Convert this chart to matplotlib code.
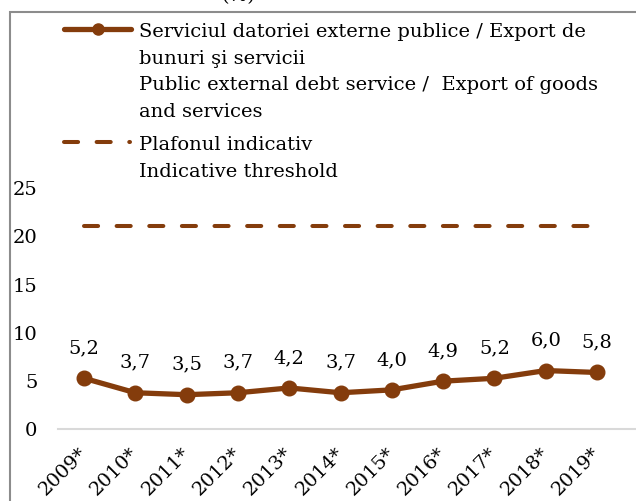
import matplotlib
matplotlib.use("Agg")
import matplotlib.pyplot as plt
from matplotlib.lines import Line2D
from matplotlib.patches import Rectangle

years = ["2009*", "2010*", "2011*", "2012*", "2013*", "2014*", "2015*", "2016*", "2017*", "2018*", "2019*"]
debt_service = [5.2, 3.7, 3.5, 3.7, 4.2, 3.7, 4.0, 4.9, 5.2, 6.0, 5.8]
threshold = [21] * len(years)
yticks = [0, 5, 10, 15, 20, 25]

label1_lines = ["Serviciul datoriei externe publice / Export de", "bunuri şi servicii",
                "Public external debt service /  Export of goods", "and services"]
label2_lines = ["Plafonul indicativ", "Indicative threshold"]

BROWN = "#843C0C"
FONT = "DejaVu Serif"
FS = 14

W, H = 636, 502
fig = plt.figure(figsize=(W / 100, H / 100), dpi=100)

def fx(px):
    return px / W

def fy(py):
    return 1 - py / H

# outer frame
fig.add_artist(Rectangle((fx(9.5), fy(560)), fx(700), 560 / H - 12.5 / H,
                         transform=fig.transFigure, fill=False, edgecolor="#8c8c8c", linewidth=1.5))
fig.text(fx(238), fy(1.5), "(%)", ha="center", va="baseline", fontsize=FS, family=FONT)

left, right, bottom, top = 58.4, 636, 429.5, 188
ax = fig.add_axes([fx(left), fy(bottom), fx(right - left), (bottom - top) / H])
x = list(range(len(years)))
step = 51.3
ax.set_xlim(-0.5, -0.5 + (right - left) / step)
ax.set_ylim(0, 25)

ax.plot(x, threshold, color=BROWN, linewidth=2.9, linestyle=(0, (3.5, 4.6)), dash_capstyle="round")
ax.plot(x, debt_service, color=BROWN, linewidth=3.8, marker="o", markersize=10.5, solid_capstyle="round")

for xi, v in zip(x, debt_service):
    ax.annotate(f"{v:.1f}".replace(".", ","), (xi, v), xytext=(0, 31), textcoords="offset pixels",
                ha="center", va="center", fontsize=FS, family=FONT)

for s in ["top", "right", "left"]:
    ax.spines[s].set_visible(False)
ax.spines["bottom"].set_color("#d9d9d9")
ax.spines["bottom"].set_linewidth(1.5)
ax.set_yticks(yticks)
ax.set_yticklabels([str(t) for t in yticks], fontsize=FS, family=FONT)
ax.tick_params(axis="y", length=0, pad=15)
ax.set_xticks(x)
ax.set_xticklabels(years, fontsize=FS, family=FONT, rotation=45, ha="right", va="center",
                   rotation_mode="anchor")
ax.tick_params(axis="x", length=0, pad=15)

# legend (manual)
fig.add_artist(Line2D([fx(64), fx(131)], [fy(29.5), fy(29.5)], color=BROWN, linewidth=3.8,
                      solid_capstyle="round", transform=fig.transFigure))
fig.add_artist(Line2D([fx(98)], [fy(29.5)], color=BROWN, marker="o", markersize=8,
                      transform=fig.transFigure))
for i, line in enumerate(label1_lines):
    fig.text(fx(139), fy(37 + 26.7 * i), line, ha="left", va="baseline", fontsize=FS, family=FONT)
fig.add_artist(Line2D([fx(64), fx(130)], [fy(143), fy(143)], color=BROWN, linewidth=2.9,
                      linestyle=(0, (3.5, 4.6)), dash_capstyle="round", transform=fig.transFigure))
for i, line in enumerate(label2_lines):
    fig.text(fx(139), fy(150 + 27 * i), line, ha="left", va="baseline", fontsize=FS, family=FONT)

fig.savefig("out.png", dpi=100)
